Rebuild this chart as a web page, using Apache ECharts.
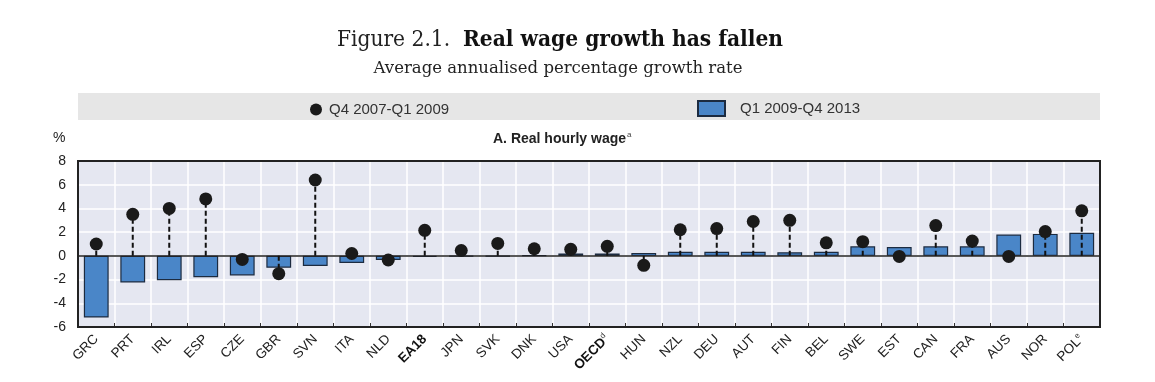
<!DOCTYPE html>
<html>
<head>
<meta charset="utf-8">
<script src="https://cdn.jsdelivr.net/npm/echarts@6/dist/echarts.min.js"></script>
<style>
  html, body { margin: 0; padding: 0; background: #ffffff; }
  #chart { width: 1155px; height: 382px; }
</style>
</head>
<body>
<div id="chart"></div>
<script>
// ---- Data ----
var categories = ['GRC','PRT','IRL','ESP','CZE','GBR','SVN','ITA','NLD','EA18','JPN','SVK','DNK','USA','OECD','HUN','NZL','DEU','AUT','FIN','BEL','SWE','EST','CAN','FRA','AUS','NOR','POL'];
var growthQ12009_Q42013 = [-5.2,-2.25,-2.05,-1.8,-1.65,-1.0,-0.85,-0.6,-0.35,-0.1,-0.05,-0.03,0.05,0.2,0.2,0.25,0.35,0.35,0.35,0.3,0.35,0.8,0.75,0.8,0.8,1.8,1.85,1.95];
var growthQ42007_Q12009 = [1.0,3.5,4.0,4.8,-0.3,-1.5,6.4,0.2,-0.35,2.15,0.45,1.05,0.6,0.55,0.8,-0.8,2.2,2.3,2.9,3.0,1.1,1.2,-0.05,2.55,1.25,-0.05,2.05,3.8];
var yTicks = { min: -6, max: 8, interval: 2 };
var seriesNames = ['Q4 2007-Q1 2009', 'Q1 2009-Q4 2013'];
var boldCats = { 'EA18': '', 'OECD': 'd' };
var supCats = { 'POL': 'e' };

var chart = echarts.init(document.getElementById('chart'), null, { renderer: 'canvas' });

var labelFont = "'Liberation Sans Narrow', 'Arial Narrow', 'Liberation Sans', Arial, sans-serif";
var titleFont = "'DejaVu Serif Condensed', 'DejaVu Serif', serif";
var G = { left: 78, right: 55, top: 161, bottom: 55 };

var option = {
  animation: false,
  backgroundColor: '#ffffff',
  graphic: [
    { type: 'text', style: {
        x: 560, y: 40, align: 'center', verticalAlign: 'middle',
        text: '{n|Figure 2.1.  }{b|Real wage growth has fallen}',
        rich: {
          n: { fontFamily: titleFont, fontSize: 22.5, fill: '#222', fontWeight: 'normal' },
          b: { fontFamily: titleFont, fontSize: 22.5, fill: '#111', fontWeight: 'bold' }
        }
    } },
    { type: 'text', style: {
        x: 558, y: 69, align: 'center', verticalAlign: 'middle',
        text: 'Average annualised percentage growth rate',
        fontFamily: "'DejaVu Serif', serif", fontSize: 16.5, fill: '#222'
    } },
    { type: 'rect', z: -1, shape: { x: 78, y: 93, width: 1022, height: 27 }, style: { fill: '#e6e6e6' } },
    { type: 'text', left: 53, top: 131, style: { text: '%', fontFamily: "'Liberation Sans', Arial, sans-serif", fontSize: 14, fill: '#222' } },
    { type: 'text', left: 493, top: 131, style: {
        text: '{t|A. Real hourly wage}{s|a}',
        rich: {
          t: { fontFamily: labelFont, fontSize: 14, fontWeight: 'bold', fill: '#222' },
          s: { fontFamily: labelFont, fontSize: 8, fill: '#444', verticalAlign: 'top', padding: [0,0,8,1] }
        }
    } },
    { type: 'rect', z: 100, silent: true,
      shape: { x: G.left, y: G.top, width: 1155 - G.left - G.right, height: 382 - G.top - G.bottom },
      style: { fill: null, stroke: '#222', lineWidth: 2 } }
  ],
  legend: [
    { data: [seriesNames[0]], left: 310, top: 102, padding: 0, itemWidth: 12, itemHeight: 12, icon: 'circle',
      textStyle: { fontFamily: labelFont, fontSize: 15, color: '#333', padding: [0,0,0,2] } },
    { data: [seriesNames[1]], left: 697, top: 100, padding: 0, itemWidth: 27, itemHeight: 15, icon: 'rect',
      textStyle: { fontFamily: labelFont, fontSize: 15, color: '#333', padding: [0,0,0,10] } }
  ],
  grid: {
    left: G.left, right: G.right, top: G.top, bottom: G.bottom,
    show: true, backgroundColor: '#e5e7f1', borderColor: '#222', borderWidth: 0
  },
  xAxis: {
    type: 'category',
    data: categories,
    axisLine: { show: false, onZero: false },
    axisTick: { show: true, inside: true, length: 4, lineStyle: { color: '#333', width: 1 } },
    splitLine: { show: true, interval: 0, lineStyle: { color: '#ffffff', width: 1.5 } },
    axisLabel: {
      interval: 0, rotate: 45, margin: 10,
      fontFamily: labelFont, fontSize: 13.5, color: '#222',
      formatter: function (v) {
        if (boldCats.hasOwnProperty(v)) {
          return '{b|' + v + '}' + (boldCats[v] ? '{s|' + boldCats[v] + '}' : '');
        }
        if (supCats.hasOwnProperty(v)) {
          return v + '{s|' + supCats[v] + '}';
        }
        return v;
      },
      rich: {
        b: { fontFamily: labelFont, fontSize: 13.5, fontWeight: 'bold', color: '#111' },
        s: { fontFamily: labelFont, fontSize: 8, color: '#333', verticalAlign: 'top', padding: [0,0,8,0] }
      }
    }
  },
  yAxis: {
    type: 'value',
    min: yTicks.min, max: yTicks.max, interval: yTicks.interval,
    axisLine: { show: false },
    axisTick: { show: false },
    splitLine: { show: true, lineStyle: { color: '#ffffff', width: 1.5 } },
    axisLabel: { fontFamily: "'Liberation Sans', Arial, sans-serif", fontSize: 14, color: '#222', margin: 12 }
  },
  series: [
    {
      name: seriesNames[1],
      type: 'bar',
      data: growthQ12009_Q42013,
      barWidth: '68%',
      itemStyle: { color: '#4a86c8', borderColor: '#1c2b40', borderWidth: 1.2 },
      z: 2,
      markLine: {
        silent: true, symbol: 'none', label: { show: false },
        lineStyle: { color: '#222', width: 1.5, type: 'solid' },
        data: [{ yAxis: 0 }],
        z: 3
      }
    },
    {
      name: 'stems',
      type: 'custom',
      data: growthQ42007_Q12009.map(function (v, i) { return [i, v]; }),
      z: 4,
      silent: true,
      renderItem: function (params, api) {
        var i = api.value(0), v = api.value(1);
        var p0 = api.coord([i, 0]);
        var p1 = api.coord([i, v]);
        return {
          type: 'line',
          shape: { x1: p0[0], y1: p0[1], x2: p1[0], y2: p1[1] },
          style: { stroke: '#111', lineWidth: 2, lineDash: [5, 3] }
        };
      }
    },
    {
      name: seriesNames[0],
      type: 'scatter',
      data: growthQ42007_Q12009,
      symbol: 'circle',
      symbolSize: 13,
      itemStyle: { color: '#1a1a1a', opacity: 1 },
      z: 5
    }
  ]
};
chart.setOption(option);
</script>
</body>
</html>
